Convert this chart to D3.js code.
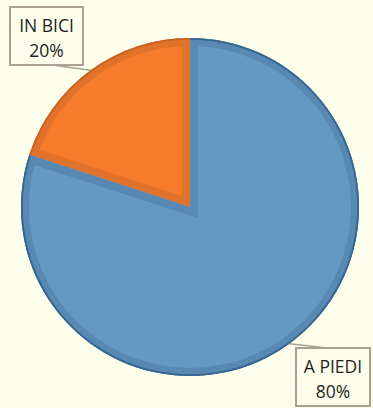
<!DOCTYPE html>
<html>
<head>
<meta charset="utf-8">
<script src="https://cdn.jsdelivr.net/npm/d3@7"></script>
<style>
  html, body { margin: 0; padding: 0; background: #fefeec; }
  svg { display: block; }
</style>
</head>
<body>
<svg id="chart" width="373" height="408"></svg>
<script>
// Modes of getting around, share of trips
const categories = ["IN BICI", "A PIEDI"];
const values = [20, 80];
const percentLabels = ["20%", "80%"];

const fills = ["#f67c2b", "#6499c3"];
const bands = ["#e0722b", "#5789b2"];
const edges = ["#c85e1e", "#2f5f89"];

const width = 373, height = 408;
const cx = 190, cy = 207, radius = 169;

const svg = d3.select("#chart");
svg.append("rect").attr("width", width).attr("height", height).attr("fill", "#fefeec");

const data = categories.map((c, i) => ({ name: c, value: values[i], label: percentLabels[i], i }));

// First slice runs counter-clockwise from 12 o'clock, the rest fill the circle clockwise
const total = d3.sum(values);
const angle = d3.scaleLinear().domain([0, total]).range([0, 2 * Math.PI]);
const pie = d3.pie().value(d => d.value).sort(null)
  .startAngle(-angle(values[0]))
  .endAngle(2 * Math.PI - angle(values[0]));
const arcs = pie(data);

const arc = d3.arc().innerRadius(0).outerRadius(radius);
const g = svg.append("g").attr("transform", `translate(${cx},${cy})`);
const defs = svg.append("defs");

arcs.forEach((a, k) => {
  const id = "clip" + k;
  defs.append("clipPath").attr("id", id).append("path").attr("d", arc(a));
  const sg = g.append("g");
  sg.append("path").attr("d", arc(a)).attr("fill", fills[a.data.i]);
  // inner bevel band along the slice outline
  sg.append("path").attr("d", arc(a))
    .attr("fill", "none")
    .attr("stroke", bands[a.data.i])
    .attr("stroke-width", 16)
    .attr("stroke-linejoin", "miter")
    .attr("clip-path", `url(#${id})`);
  // dark rim along the outer arc
  const rim = d3.arc().innerRadius(radius - 1.8).outerRadius(radius);
  sg.append("path").attr("d", rim(a)).attr("fill", edges[a.data.i]).attr("opacity", 0.85);
});

// Callout labels
const boxes = [
  { x: 10, y: 7, w: 73, h: 58, anchorX: 52, anchorY: 65 },
  { x: 296, y: 348, w: 74, h: 58, anchorX: 328, anchorY: 348 }
];

arcs.forEach((a, k) => {
  const mid = (a.startAngle + a.endAngle) / 2;
  const px = cx + radius * Math.sin(mid);
  const py = cy - radius * Math.cos(mid);
  const b = boxes[k];
  svg.append("line")
    .attr("x1", px).attr("y1", py)
    .attr("x2", b.anchorX).attr("y2", b.anchorY)
    .attr("stroke", "#a8a294").attr("stroke-width", 1.5);
  svg.append("rect")
    .attr("x", b.x).attr("y", b.y).attr("width", b.w).attr("height", b.h)
    .attr("fill", "#fefeec").attr("stroke", "#a8a294").attr("stroke-width", 2);
  const t = svg.append("text")
    .attr("x", b.x + b.w / 2).attr("text-anchor", "middle")
    .attr("font-family", "'Open Sans', sans-serif").attr("font-size", 17.5)
    .attr("fill", "#1e1e1e");
  t.append("tspan").attr("x", b.x + b.w / 2).attr("y", b.y + 25).text(a.data.name);
  t.append("tspan").attr("x", b.x + b.w / 2).attr("y", b.y + 49.5).text(a.data.label);
});
</script>
</body>
</html>
